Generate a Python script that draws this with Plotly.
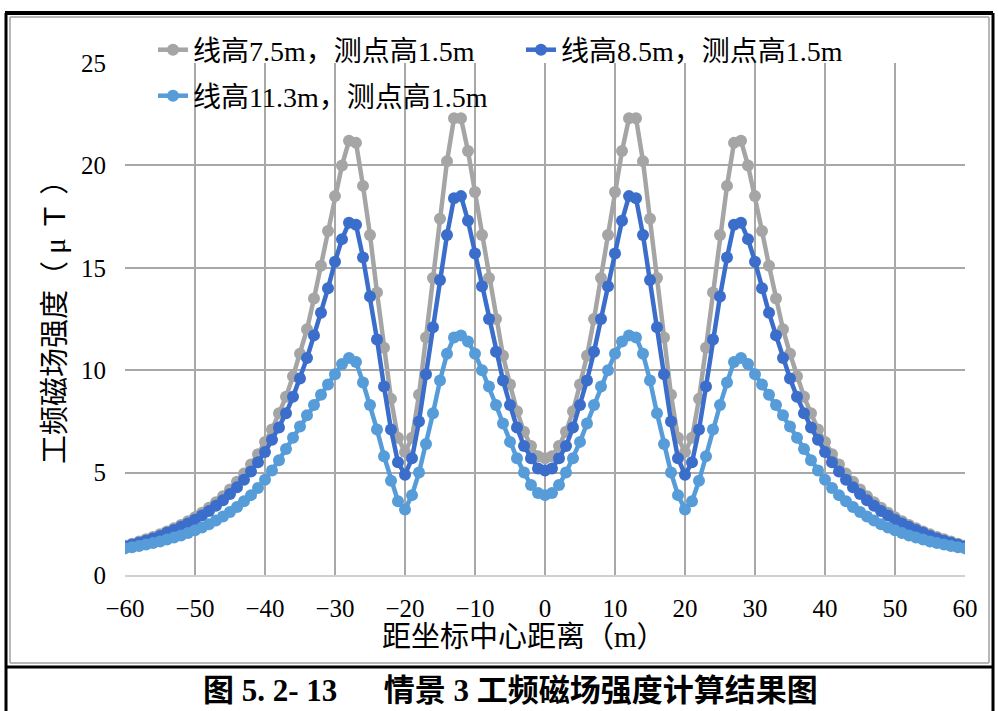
import plotly.graph_objects as go

# Distance from the coordinate centre (m), one sample per metre
x_m = list(range(-60, 61))

# Power-frequency magnetic field (μT), right half x = 0..60
b_75_right = [5.7, 5.8, 6.3, 7.0, 8.0, 9.3, 10.7, 12.5, 14.5, 16.6,
              18.7, 20.7, 22.3, 22.3, 20.2, 17.4, 14.5, 11.6, 8.8, 6.7,
              6.0, 6.7, 8.6, 11.1, 13.8, 16.6, 19.0, 21.1, 21.2, 20.0,
              18.5, 16.8, 15.1, 13.5, 12.0, 10.8, 9.7, 8.7, 7.9, 7.1,
              6.5, 5.9, 5.4, 4.95, 4.55, 4.18, 3.85, 3.55, 3.28, 3.04,
              2.82, 2.62, 2.44, 2.28, 2.13, 1.99, 1.86, 1.74, 1.63, 1.53,
              1.43]
b_85_right = [5.1, 5.2, 5.7, 6.3, 7.2, 8.3, 9.5, 10.9, 12.5, 14.1,
              15.7, 17.3, 18.5, 18.4, 16.6, 14.4, 12.1, 9.8, 7.5, 5.7,
              4.9, 5.5, 7.1, 9.2, 11.5, 13.6, 15.5, 17.1, 17.2, 16.4,
              15.3, 14.0, 12.8, 11.7, 10.6, 9.6, 8.7, 7.9, 7.2, 6.6,
              6.0, 5.5, 5.05, 4.65, 4.28, 3.95, 3.65, 3.38, 3.13, 2.9,
              2.7, 2.52, 2.35, 2.2, 2.06, 1.9, 1.78, 1.67, 1.57, 1.48,
              1.39]
b_113_right = [3.9, 4.0, 4.4, 5.0, 5.7, 6.5, 7.4, 8.3, 9.2, 10.0,
               10.8, 11.4, 11.7, 11.6, 10.8, 9.5, 7.9, 6.4, 5.0, 3.9,
               3.2, 3.6, 4.6, 5.8, 7.1, 8.3, 9.4, 10.4, 10.6, 10.3,
               9.8, 9.3, 8.8, 8.3, 7.8, 7.25, 6.7, 6.15, 5.6, 5.1,
               4.65, 4.25, 3.9, 3.6, 3.32, 3.08, 2.86, 2.66, 2.48, 2.32,
               2.18, 2.05, 1.93, 1.83, 1.73, 1.64, 1.56, 1.49, 1.42, 1.36,
               1.3]

# The profile is symmetric about the centre line
b_75 = b_75_right[:0:-1] + b_75_right
b_85 = b_85_right[:0:-1] + b_85_right
b_113 = b_113_right[:0:-1] + b_113_right

series_names = ["线高7.5m，测点高1.5m", "线高8.5m，测点高1.5m", "线高11.3m，测点高1.5m"]
series_colors = ["#A5A5A5", "#3B6DCB", "#569CD9"]
series_values = [b_75, b_85, b_113]
series_legend = ["legend", "legend", "legend2"]

x_ticks = list(range(-60, 61, 10))
y_ticks = [0, 5, 10, 15, 20, 25]

W, H = 998, 711
L, R, T, B = 125, 965, 63, 575

SERIF = "Liberation Serif, Noto Sans CJK SC, serif"


def px(xpix):
    return (xpix - L) / (R - L)


def py(ypix):
    return (B - ypix) / (B - T)


fig = go.Figure()
for name, color, vals, lg in zip(series_names, series_colors, series_values, series_legend):
    fig.add_trace(go.Scatter(
        x=x_m, y=vals, name=name, mode="lines+markers",
        line=dict(color=color, width=4.5),
        marker=dict(color=color, size=12, symbol="circle"),
        legend=lg,
    ))

grid = "#A8A8A8"
fig.update_layout(
    width=W, height=H,
    margin=dict(l=L, r=W - R, t=T, b=H - B),
    paper_bgcolor="white", plot_bgcolor="white",
    font=dict(family=SERIF, size=25, color="black"),
    showlegend=True,
    legend=dict(orientation="h", x=px(153), y=py(50), xanchor="left", yanchor="middle",
                bgcolor="rgba(0,0,0,0)", font=dict(size=28, family=SERIF),
                entrywidth=323, entrywidthmode="pixels", tracegroupgap=0),
    legend2=dict(orientation="h", x=px(153), y=py(96), xanchor="left", yanchor="middle",
                 bgcolor="rgba(0,0,0,0)", font=dict(size=28, family=SERIF)),
    xaxis=dict(range=[-60, 60], tickvals=x_ticks, ticktext=[str(v).replace("-", "−") for v in x_ticks],
               showgrid=True, gridcolor=grid, gridwidth=2, zeroline=False,
               showline=True, linecolor="#D0D0D0", linewidth=2, ticks="",
               ticklabelstandoff=10, tickfont=dict(size=25, family=SERIF)),
    yaxis=dict(range=[0, 25], tickvals=y_ticks, showgrid=True, gridcolor=grid, gridwidth=2,
               zeroline=False, showline=False, ticks="", ticklabelstandoff=18,
               tickfont=dict(size=25, family=SERIF)),
)

# Axis titles
fig.add_annotation(xref="paper", yref="paper", x=px(524), y=py(637),
                   text="距坐标中心距离（m）", showarrow=False,
                   font=dict(size=29, family=SERIF), xanchor="center", yanchor="middle")
fig.add_annotation(xref="paper", yref="paper", x=px(55), y=py(315),
                   text="工频磁场强度（ μ Ｔ ）", showarrow=False, textangle=-90,
                   font=dict(size=29, family=SERIF), xanchor="center", yanchor="middle")

# Frame of the figure cell and the caption row below the chart
frame = [
    (5, 13, 993, 13, "black", 4),
    (6, 13, 6, 711, "black", 3),
    (993, 13, 993, 711, "black", 3),
    (10, 17, 989, 17, "#A0A0A0", 1.5),
    (10, 17, 10, 663, "#A0A0A0", 1.5),
    (989, 17, 989, 663, "#A0A0A0", 1.5),
    (10, 663, 989, 663, "#A0A0A0", 1.5),
    (5, 667, 993, 667, "black", 3),
]
for x0, y0, x1, y1, c, w in frame:
    fig.add_shape(type="line", xref="paper", yref="paper",
                  x0=px(x0), y0=py(y0), x1=px(x1), y1=py(y1),
                  line=dict(color=c, width=w), layer="above")

fig.add_annotation(xref="paper", yref="paper", x=px(510), y=py(690),
                   text="<b>图 5. 2- 13　  情景 3 工频磁场强度计算结果图</b>",
                   showarrow=False, font=dict(size=31, family=SERIF),
                   xanchor="center", yanchor="middle")

fig.write_html("out.html")
